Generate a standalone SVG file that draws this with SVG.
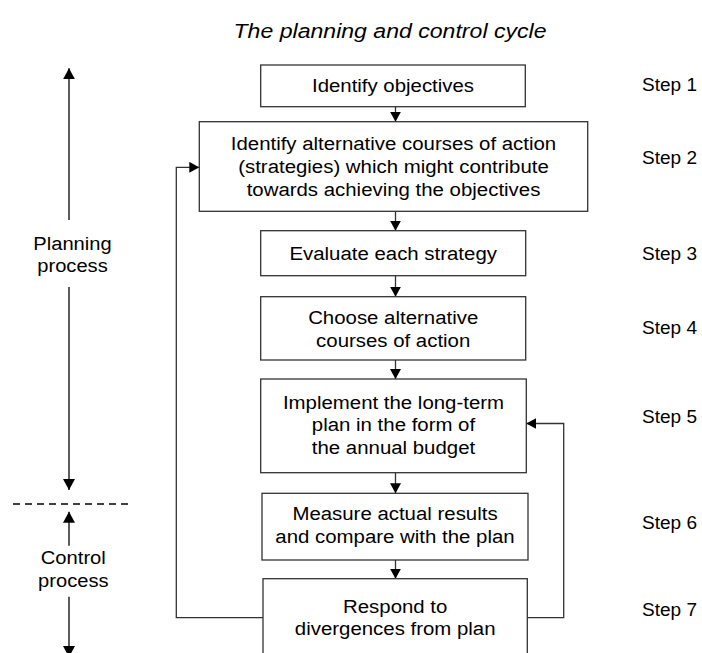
<svg xmlns="http://www.w3.org/2000/svg" width="702" height="653" viewBox="0 0 702 653">
<style>
text{font-family:"Liberation Sans",Arial,sans-serif;font-size:18px;fill:#000}
.c{text-anchor:middle}
.box{fill:#fff;stroke:#333;stroke-width:1.3}
.ln{fill:none;stroke:#333;stroke-width:1.3}
.lb{fill:none;stroke:#333;stroke-width:1.6}
.title{font-style:italic;font-size:20px}
</style>
<defs>
<marker id="ah" viewBox="0 0 10 10" refX="10" refY="5" markerWidth="10" markerHeight="11" markerUnits="userSpaceOnUse" orient="auto" preserveAspectRatio="none"><path d="M0,0 L10,5 L0,10 z" fill="#000"/></marker>
<marker id="ahb" viewBox="0 0 10 10" refX="10" refY="5" markerWidth="11" markerHeight="12" markerUnits="userSpaceOnUse" orient="auto" preserveAspectRatio="none"><path d="M0,0 L10,5 L0,10 z" fill="#000"/></marker>
</defs>
<text id="title" class="c title" x="390" y="38" textLength="313" lengthAdjust="spacingAndGlyphs">The planning and control cycle</text>

<g id="connectors">
<line class="ln" x1="395.5" y1="106.7" x2="395.5" y2="121.7" marker-end="url(#ah)"/>
<line class="ln" x1="395.5" y1="211.3" x2="395.5" y2="230.7" marker-end="url(#ah)"/>
<line class="ln" x1="395.5" y1="275.7" x2="395.5" y2="296.7" marker-end="url(#ah)"/>
<line class="ln" x1="395.5" y1="360" x2="395.5" y2="379" marker-end="url(#ah)"/>
<line class="ln" x1="395.5" y1="472.7" x2="395.5" y2="493.3" marker-end="url(#ah)"/>
<line class="ln" x1="395.5" y1="560" x2="395.5" y2="578.7" marker-end="url(#ah)"/>
<polyline class="ln" points="263,617.7 176.3,617.7 176.3,167.3 199.3,167.3" marker-end="url(#ah)"/>
<polyline class="ln" points="527.3,617.7 563.7,617.7 563.7,423.5 526.3,423.5" marker-end="url(#ah)"/>
<line class="lb" x1="69" y1="220" x2="69" y2="68.3" marker-end="url(#ahb)"/>
<line class="lb" x1="69" y1="287" x2="69" y2="490" marker-end="url(#ahb)"/>
<line x1="13" y1="504" x2="133" y2="504" stroke="#000" stroke-width="1.6" stroke-dasharray="7,5"/>
<line class="lb" x1="69" y1="545.7" x2="69" y2="511.7" marker-end="url(#ahb)"/>
<line class="lb" x1="69" y1="596.7" x2="69" y2="657" marker-end="url(#ahb)"/>
</g>

<g id="side-labels">
<text class="c" x="72.5" y="250" textLength="78.3" lengthAdjust="spacingAndGlyphs">Planning</text>
<text class="c" x="72.5" y="272" textLength="70.5" lengthAdjust="spacingAndGlyphs">process</text>
<text class="c" x="73.3" y="564.3" textLength="65" lengthAdjust="spacingAndGlyphs">Control</text>
<text class="c" x="73.3" y="586.7" textLength="70.5" lengthAdjust="spacingAndGlyphs">process</text>
</g>

<g id="n1"><rect class="box" x="260.7" y="65" width="264.6" height="41.7"/>
<text class="c" x="393" y="92.3" textLength="162" lengthAdjust="spacingAndGlyphs">Identify objectives</text></g>

<g id="n2"><rect class="box" x="199.3" y="121.7" width="388.4" height="89.6"/>
<text class="c" x="393.5" y="150" textLength="325.4" lengthAdjust="spacingAndGlyphs">Identify alternative courses of action</text>
<text class="c" x="393.5" y="172.8" textLength="310.6" lengthAdjust="spacingAndGlyphs">(strategies) which might contribute</text>
<text class="c" x="393.5" y="195.6" textLength="293.7" lengthAdjust="spacingAndGlyphs">towards achieving the objectives</text></g>

<g id="n3"><rect class="box" x="260.7" y="230.7" width="265" height="45"/>
<text class="c" x="393.2" y="259.5" textLength="207.5" lengthAdjust="spacingAndGlyphs">Evaluate each strategy</text></g>

<g id="n4"><rect class="box" x="260.7" y="296.7" width="265" height="63.3"/>
<text class="c" x="393.2" y="324" textLength="170.1" lengthAdjust="spacingAndGlyphs">Choose alternative</text>
<text class="c" x="393.2" y="346.6" textLength="154.2" lengthAdjust="spacingAndGlyphs">courses of action</text></g>

<g id="n5"><rect class="box" x="260.7" y="379" width="265.6" height="93.7"/>
<text class="c" x="393.5" y="408.5" textLength="221.1" lengthAdjust="spacingAndGlyphs">Implement the long-term</text>
<text class="c" x="393.5" y="431.3" textLength="163.3" lengthAdjust="spacingAndGlyphs">plan in the form of</text>
<text class="c" x="393.5" y="454" textLength="163.3" lengthAdjust="spacingAndGlyphs">the annual budget</text></g>

<g id="n6"><rect class="box" x="262" y="493.3" width="266" height="66.7"/>
<text class="c" x="395" y="520" textLength="205.2" lengthAdjust="spacingAndGlyphs">Measure actual results</text>
<text class="c" x="395" y="543.3" textLength="239.3" lengthAdjust="spacingAndGlyphs">and compare with the plan</text></g>

<g id="n7"><rect class="box" x="263" y="578.7" width="264.3" height="100"/>
<text class="c" x="395.2" y="612.7" textLength="104.3" lengthAdjust="spacingAndGlyphs">Respond to</text>
<text class="c" x="395.2" y="635" textLength="200.7" lengthAdjust="spacingAndGlyphs">divergences from plan</text></g>

<g id="steps">
<text x="642" y="91" textLength="55" lengthAdjust="spacingAndGlyphs">Step 1</text>
<text x="642" y="164" textLength="55" lengthAdjust="spacingAndGlyphs">Step 2</text>
<text x="642" y="260" textLength="55" lengthAdjust="spacingAndGlyphs">Step 3</text>
<text x="642" y="333.5" textLength="55" lengthAdjust="spacingAndGlyphs">Step 4</text>
<text x="642" y="423" textLength="55" lengthAdjust="spacingAndGlyphs">Step 5</text>
<text x="642" y="528.5" textLength="55" lengthAdjust="spacingAndGlyphs">Step 6</text>
<text x="642" y="615.5" textLength="55" lengthAdjust="spacingAndGlyphs">Step 7</text>
</g>
</svg>
